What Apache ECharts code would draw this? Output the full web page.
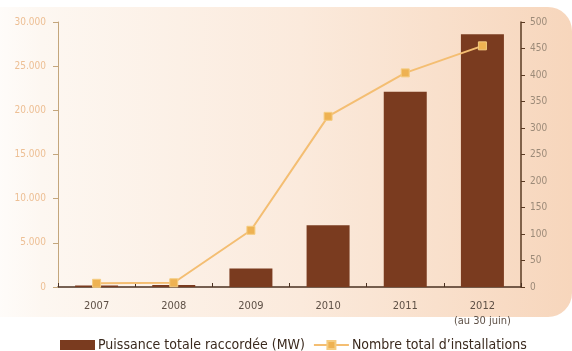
<!DOCTYPE html>
<html>
<head>
<meta charset="utf-8">
<script src="https://cdn.jsdelivr.net/npm/echarts@6/dist/echarts.min.js"></script>
<style>
  html, body { margin: 0; padding: 0; background: #ffffff; }
  #chart { width: 572px; height: 351px; }
</style>
</head>
<body>
<div id="chart"></div>
<script>
// Categories (years) and the two series
const years = ['2007', '2008', '2009', '2010', '2011', '2012\n(au 30 juin)'];
const puissanceMW = [180, 220, 2100, 7000, 22100, 28600];
const nbInstallations = [7, 8, 107, 322, 404, 455];

const leftTicks = { min: 0, max: 30000, interval: 5000 };
const rightTicks = { min: 0, max: 500, interval: 50 };

const seriesNames = ['Puissance totale raccordée (MW)', 'Nombre total d\u2019installations'];

const FONT = '"Liberation Sans Narrow", "DejaVu Sans Condensed", "Liberation Sans", sans-serif';
const BAR = '#7a3b1f';
const LINE = '#f4be72';

const chart = echarts.init(document.getElementById('chart'), null, { renderer: 'canvas' });

chart.setOption({
  animation: false,
  backgroundColor: '#ffffff',
  textStyle: { fontFamily: FONT },
  graphic: [{
    type: 'rect',
    z: -10,
    silent: true,
    shape: { x: -30, y: 7, width: 602, height: 310, r: [0, 24, 24, 0] },
    style: {
      fill: new echarts.graphic.LinearGradient(0, 0, 1, 0, [
        { offset: 0, color: 'rgba(255,255,255,1)' },
        { offset: 0.12, color: '#fdf7f1' },
        { offset: 0.55, color: '#fbeadc' },
        { offset: 1, color: '#f7d6bc' }
      ])
    }
  }],
  legend: {
    bottom: -6,
    left: 55,
    itemGap: 8,
    itemWidth: 35,
    itemHeight: 10,
    textStyle: { fontFamily: FONT, fontSize: 14, color: '#3b2a1e', padding: [0, 0, 0, -2] },
    data: [
      { name: seriesNames[0], icon: 'rect' },
      { name: seriesNames[1] }
    ]
  },
  grid: { left: 58, right: 51, top: 22, bottom: 64, containLabel: false },
  xAxis: {
    type: 'category',
    data: years,
    axisLine: { lineStyle: { color: '#4a3020', width: 1.5 } },
    axisTick: { show: true, inside: true, length: 4, lineStyle: { color: '#4a3020' } },
    axisLabel: { color: '#5e5046', fontSize: 11, fontFamily: FONT, margin: 12, lineHeight: 15 }
  },
  yAxis: [
    {
      type: 'value',
      position: 'left',
      min: leftTicks.min, max: leftTicks.max, interval: leftTicks.interval,
      splitLine: { show: false },
      axisLine: { show: true, lineStyle: { color: '#c4a67c' } },
      axisTick: { show: true, length: 5, lineStyle: { color: '#c4a67c' } },
      axisLabel: {
        color: '#edbf94', fontSize: 10, fontFamily: FONT, margin: 12,
        formatter: v => String(v).replace(/\B(?=(\d{3})+(?!\d))/g, '.')
      }
    },
    {
      type: 'value',
      position: 'right',
      min: rightTicks.min, max: rightTicks.max, interval: rightTicks.interval,
      splitLine: { show: false },
      axisLine: { show: true, lineStyle: { color: '#5a3a22', width: 1.5 } },
      axisTick: { show: true, length: 4, lineStyle: { color: '#5a3a22' } },
      axisLabel: { color: '#9c8a78', fontSize: 10, fontFamily: FONT, margin: 9 }
    }
  ],
  series: [
    {
      name: seriesNames[0],
      type: 'bar',
      yAxisIndex: 0,
      data: puissanceMW,
      barWidth: 43,
      itemStyle: { color: BAR }
    },
    {
      name: seriesNames[1],
      type: 'line',
      yAxisIndex: 1,
      data: nbInstallations,
      symbol: 'rect',
      symbolSize: 8,
      lineStyle: { color: LINE, width: 2 },
      itemStyle: { color: '#eeb252', borderColor: '#f5cc80', borderWidth: 1 }
    }
  ]
});
</script>
</body>
</html>
